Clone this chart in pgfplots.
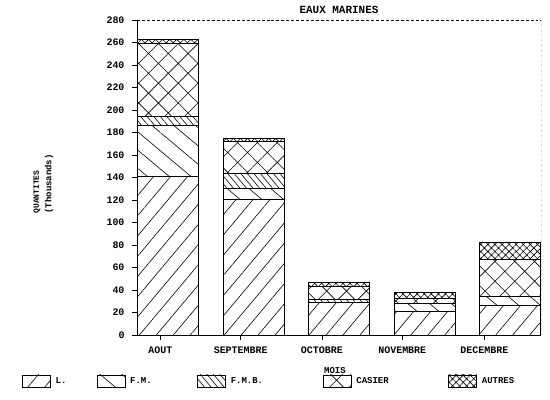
\documentclass[border=0pt]{standalone}
\usepackage{fontspec}
\setmainfont{Liberation Mono}
\usepackage{pgfplots}
\usepackage{pgfplotstable}
\pgfplotsset{compat=1.18}
\usetikzlibrary{patterns.meta}

% quantities per month, stacked: L, F.M., F.M.B., CASIER, AUTRES
\pgfplotstableread{
x L FM FMB CAS AUT
0 141 45 8 65 4
1 121 9 14 28 3
2 29 0 3 11 4
3 21 7 0 5 5
4 26 8 0 33 15
}\data

\pgfplotsset{
  pL/.style={draw=black, line width=0.6pt, pattern={Lines[angle=50,distance=13bp,line width=0.6pt]}},
  pFM/.style={draw=black, line width=0.6pt, pattern={Lines[angle=-40,distance=14bp,line width=0.6pt]}},
  pFMB/.style={draw=black, line width=0.6pt, pattern={Lines[angle=-50,distance=5bp,line width=0.6pt]}},
  pCAS/.style={draw=black, line width=0.6pt, pattern={Hatch[angle=45,distance=14bp,line width=0.6pt]}},
  pAUT/.style={draw=black, line width=0.6pt, pattern={Hatch[angle=45,distance=5bp,line width=0.6pt]}},
}

\begin{document}
\begin{tikzpicture}[font=\bfseries]
\useasboundingbox (-137bp,-65bp) rectangle (413bp,335bp);
\begin{axis}[
  at={(0,0)}, anchor=south west,
  scale only axis, width=404bp, height=315bp,
  ybar stacked, bar width=61bp,
  xmin=-0.363, xmax=4.363, ymin=0, ymax=280,
  axis x line=bottom, axis y line=left,
  axis line style={-, line width=0.7pt},
  ytick={0,20,...,280},
  xtick={-0.09,0.85,1.80,2.74,3.70},
  xticklabels={AOUT,SEPTEMBRE,OCTOBRE,NOVEMBRE,DECEMBRE},
  tick align=outside,
  major tick length=5bp,
  tick style={line width=0.7pt, black},
  /pgf/number format/assume math mode=true,
  ticklabel style={font=\fontsize{10}{12}\selectfont\bfseries},
  yticklabel style={xshift=-4bp},
  xticklabel style={yshift=-3bp},
  title={EAUX MARINES},
  title style={font=\fontsize{11}{13}\selectfont\bfseries, yshift=-3bp},
  xlabel={\underline{MOIS}},
  xlabel style={at={(axis description cs:0.49,-0.117)}, anchor=center, font=\fontsize{9}{11}\selectfont\bfseries},
  legend style={at={(-0.285,-0.146)}, anchor=west, draw=none, fill=none,
    inner sep=0pt, font=\fontsize{9}{11}\selectfont\bfseries,
    /tikz/every even column/.append style={column sep=0pt}},
  legend columns=5,
  legend cell align=left,
  legend image code/.code={\draw[#1] (0bp,-6bp) rectangle (28bp,6bp);},
]
\addplot[pL] table[x=x, y=L] {\data};
\addplot[pFM] table[x=x, y=FM] {\data};
\addplot[pFMB] table[x=x, y=FMB] {\data};
\addplot[pCAS] table[x=x, y=CAS] {\data};
\addplot[pAUT] table[x=x, y=AUT] {\data};
\legend{\makebox[42bp][l]{\hspace{3bp}L.}, \makebox[68bp][l]{\hspace{3bp}F.M.}, \makebox[93bp][l]{\hspace{3bp}F.M.B.}, \makebox[93bp][l]{\hspace{3bp}CASIER}, \hspace{3bp}AUTRES}
\draw[densely dashed, line width=0.6pt] (rel axis cs:0,1) -- (rel axis cs:1,1) -- (rel axis cs:1,0);
\end{axis}
\node[rotate=90, anchor=west, font=\fontsize{8}{10}\selectfont\bfseries] at (-100bp,118bp) {QUANTITES};
\node[rotate=90, anchor=west, font=\fontsize{9}{11}\selectfont\bfseries] at (-88bp,118bp) {(Thousands)};
\end{tikzpicture}
\end{document}
